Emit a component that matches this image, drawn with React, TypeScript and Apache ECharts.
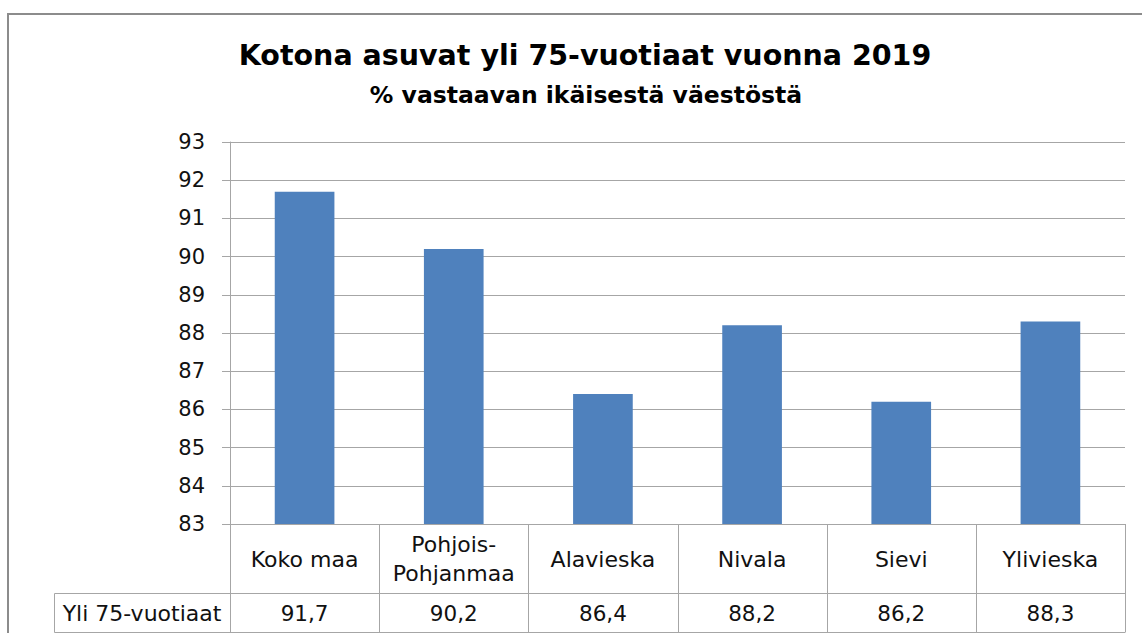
import React, { useEffect, useRef } from "react";
import * as echarts from "echarts";

const titleText = "Kotona asuvat yli 75-vuotiaat vuonna 2019";
const subtitleText = "% vastaavan ikäisestä väestöstä";
const categories = ["Koko maa", "Pohjois-\nPohjanmaa", "Alavieska", "Nivala", "Sievi", "Ylivieska"];
const seriesName = "Yli 75-vuotiaat";
const values = [91.7, 90.2, 86.4, 88.2, 86.2, 88.3];
const yMin = 83;
const yMax = 93;
const yInterval = 1;

const FONT = "DejaVu Sans";
const L = 230;
const T = 142;
const R = 1125;
const B = 524;
const ROW1 = 593;
const ROW2 = 632;
const LABEL_LEFT = 54;
const LINE = "#a6a6a6";

export default function App() {
  const ref = useRef<HTMLDivElement>(null);
  useEffect(() => {
    if (!ref.current) return;
    const chart = echarts.init(ref.current, undefined, { renderer: "svg" });
    const n = categories.length;
    const colW = (R - L) / n;
    const graphics: any[] = [];
    const ln = (x1: number, y1: number, x2: number, y2: number) => ({
      type: "line",
      shape: { x1, y1, x2, y2 },
      style: { stroke: LINE, lineWidth: 1 },
      silent: true,
    });
    for (let i = 0; i <= n; i++) {
      const x = Math.round(L + i * colW) + 0.5;
      graphics.push(ln(x, B, x, ROW2));
    }
    graphics.push(ln(LABEL_LEFT + 0.5, ROW1 + 0.5, R + 0.5, ROW1 + 0.5));
    graphics.push(ln(LABEL_LEFT + 0.5, ROW2 + 0.5, R + 0.5, ROW2 + 0.5));
    graphics.push(ln(LABEL_LEFT + 0.5, ROW1 + 0.5, LABEL_LEFT + 0.5, ROW2 + 0.5));
    graphics.push({
      type: "text",
      x: (LABEL_LEFT + L) / 2,
      y: (ROW1 + ROW2) / 2 + 1,
      style: {
        text: seriesName,
        font: `22px '${FONT}'`,
        fill: "#111",
        align: "center",
        verticalAlign: "middle",
      },
    });
    graphics.push({
      type: "rect",
      shape: { x: 8, y: 14, width: 1300, height: 800 },
      style: { fill: "none", stroke: "#8c8c8c", lineWidth: 2 },
      silent: true,
    });

    chart.setOption({
      animation: false,
      backgroundColor: "#ffffff",
      title: [
        {
          text: titleText,
          left: 580,
          top: 36,
          textAlign: "center",
          textStyle: { fontFamily: FONT, fontSize: 28.5, fontWeight: "bold", color: "#000" },
        },
        {
          text: subtitleText,
          left: 581,
          top: 78,
          textAlign: "center",
          textStyle: { fontFamily: FONT, fontSize: 23.5, fontWeight: "bold", color: "#000" },
        },
      ],
      grid: { left: L, top: T, width: R - L, height: B - T, containLabel: false },
      xAxis: [
        {
          type: "category",
          data: categories,
          position: "bottom",
          axisLine: { show: true, lineStyle: { color: LINE } },
          axisTick: { show: false },
          splitLine: { show: false },
          axisLabel: {
            interval: 0,
            margin: 35,
            verticalAlign: "middle",
            fontFamily: FONT,
            fontSize: 22,
            lineHeight: 29,
            color: "#111",
          },
        },
        {
          type: "category",
          data: values.map((v) => v.toFixed(1).replace(".", ",")),
          position: "bottom",
          axisLine: { show: false },
          axisTick: { show: false },
          splitLine: { show: false },
          axisLabel: {
            interval: 0,
            margin: 89,
            verticalAlign: "middle",
            fontFamily: FONT,
            fontSize: 21.5,
            color: "#111",
          },
        },
      ],
      yAxis: {
        type: "value",
        min: yMin,
        max: yMax,
        interval: yInterval,
        axisLine: { show: true, lineStyle: { color: LINE } },
        axisTick: { show: true, length: 8, lineStyle: { color: LINE } },
        splitLine: { show: true, lineStyle: { color: LINE } },
        axisLabel: {
          margin: 25,
          fontFamily: FONT,
          fontSize: 21,
          color: "#111",
        },
      },
      series: [
        {
          type: "bar",
          name: seriesName,
          data: values,
          xAxisIndex: 0,
          barWidth: "40%",
          itemStyle: { color: "#4f81bd" },
        },
      ],
      graphic: graphics,
    });
    return () => chart.dispose();
  }, []);
  return (
    <div
      ref={ref}
      style={{ position: "absolute", left: 0, top: 0, width: 1142, height: 633 }}
    />
  );
}
